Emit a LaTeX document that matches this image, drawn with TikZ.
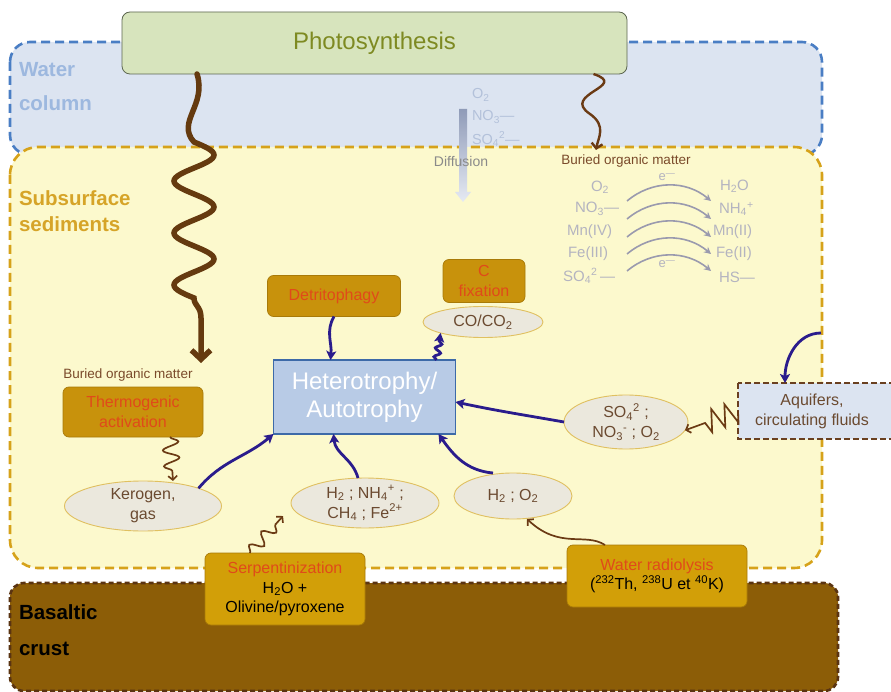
\documentclass[tikz,border=0pt]{standalone}
\usepackage{fontspec}
\setmainfont{Liberation Sans}
\usetikzlibrary{shapes.geometric,arrows.meta,decorations.pathmorphing}
\newcommand\fsz[2]{\fontsize{#1}{#2}\selectfont}
\definecolor{waterfill}{RGB}{220,228,241}
\definecolor{waterdraw}{RGB}{74,126,196}
\definecolor{waterlbl}{RGB}{157,184,223}
\definecolor{sedfill}{RGB}{252,249,205}
\definecolor{seddraw}{RGB}{214,162,26}
\definecolor{sedlbl}{RGB}{214,164,40}
\definecolor{basfill}{RGB}{140,93,7}
\definecolor{basdraw}{RGB}{90,52,18}
\definecolor{photofill}{RGB}{215,228,189}
\definecolor{photodraw}{RGB}{92,102,80}
\definecolor{phototext}{RGB}{126,138,34}
\definecolor{ofill}{RGB}{200,146,12}
\definecolor{ofilltwo}{RGB}{210,159,8}
\definecolor{oborder}{RGB}{168,122,8}
\definecolor{ored}{RGB}{224,74,26}
\definecolor{ellfill}{RGB}{235,232,221}
\definecolor{elldraw}{RGB}{224,192,96}
\definecolor{elltext}{RGB}{107,74,48}
\definecolor{hetfill}{RGB}{184,203,230}
\definecolor{hetdraw}{RGB}{61,106,168}
\definecolor{arrblue}{RGB}{42,28,140}
\definecolor{arrbrown}{RGB}{107,58,20}
\definecolor{bigbrown}{RGB}{101,58,15}
\definecolor{redoxgray}{RGB}{180,180,192}
\definecolor{redoxarc}{RGB}{154,154,174}
\definecolor{difftext}{RGB}{179,193,218}
\definecolor{difftop}{RGB}{143,155,184}
\definecolor{diffbot}{RGB}{230,234,243}
\definecolor{diffgray}{RGB}{138,138,138}
\definecolor{aqdraw}{RGB}{106,64,32}
\definecolor{brownlbl}{RGB}{122,74,42}
\begin{document}
\begin{tikzpicture}[x=1pt,y=-1pt,
  every node/.style={inner sep=0pt,outer sep=0pt},
  regionlbl/.style={anchor=west,align=left},
  obox/.style={draw=oborder,line width=0.7pt,fill=ofill,rounded corners=6pt,text=ored,align=center,font=\fsz{16}{20}},
  obottom/.style={obox,fill=ofilltwo,text=black,font=\fsz{16}{19.5}},
  ell/.style={ellipse,draw=elldraw,line width=0.9pt,fill=ellfill,text=elltext,align=center,font=\fsz{16}{20}},
  redox/.style={text=redoxgray,font=\fsz{15}{17}},
  redoxarr/.style={draw=redoxarc,line width=1.6pt,-{Stealth[length=7pt,width=7pt]}},
  bluearr/.style={draw=arrblue,line width=2.8pt,-{Stealth[length=9pt,width=10pt,inset=2pt]}},
  brownarr/.style={draw=arrbrown,line width=1.7pt,-{Straight Barb[length=4pt,width=9pt]}},
  bigarr/.style={draw=bigbrown,line width=5.5pt,line cap=round,-{Straight Barb[length=9pt,width=19pt]}},
  brownlabel/.style={text=brownlbl,font=\fsz{13.5}{16}}
]
\useasboundingbox (0,0) rectangle (891,692);
% regions
\draw[fill=waterfill,draw=waterdraw,line width=2.6pt,dash pattern=on 9pt off 5pt,rounded corners=20pt] (10,42) rectangle (822,155);
\draw[fill=sedfill,draw=seddraw,line width=2.6pt,dash pattern=on 9pt off 5pt,rounded corners=28pt] (10,147) rectangle (822,568);
\draw[fill=basfill,draw=basdraw,line width=2.6pt,dash pattern=on 5pt off 3pt,rounded corners=14pt] (10,583) rectangle (838,691);
\node[regionlbl,text=waterlbl,font=\bfseries\fsz{20.5}{34}] (wl) at (19,87) {Water\\column};
\node[regionlbl,text=sedlbl,font=\bfseries\fsz{20.5}{26}] (sl) at (19,211) {Subsurface\\sediments};
\node[regionlbl,text=black,font=\bfseries\fsz{20.5}{36}] (bl) at (19,630) {Basaltic\\crust};
% photosynthesis
\node[draw=photodraw,line width=0.8pt,fill=photofill,rounded corners=8pt,minimum width=505pt,minimum height=62pt,text=phototext,font=\fsz{24}{28}] (photo) at (374.5,43) {Photosynthesis};
% diffusion
\shade[top color=difftop,bottom color=diffbot] (459,109) -- (467,109) -- (467,192) -- (471,192) -- (463,202) -- (455,192) -- (459,192) -- cycle;
\node[anchor=west,text=difftext,font=\fsz{14.5}{16}] (do) at (472,95) {O\textsubscript{2}};
\node[anchor=west,text=difftext,font=\fsz{14.5}{16}] (dn) at (472,117) {NO\textsubscript{3}—};
\node[anchor=west,text=difftext,font=\fsz{14.5}{16}] (ds) at (472,139) {SO\textsubscript{4}\textsuperscript{2}—};
\node[text=diffgray,font=\fsz{14}{16}] (diff) at (461,161) {Diffusion};
% right buried organic matter + redox
\node[brownlabel] (bomr) at (626,161) {Buried organic matter};
\coordinate (bomrtip) at (596,150);
\draw[brownarr,line width=2.4pt,-{Straight Barb[length=5pt,width=11pt]}] ([xshift=219pt]photo.south) .. controls (630,86) and (560,94) .. (590,114) .. controls (607,126) and (598,138) .. (bomrtip);
\node[redox,anchor=east] (l1) at (609,187) {O\textsubscript{2}};
\node[redox,anchor=east] (l2) at (619,209) {NO\textsubscript{3}—};
\node[redox,anchor=east] (l3) at (612,232) {Mn(IV)};
\node[redox,anchor=east] (l4) at (608,254) {Fe(III)};
\node[redox,anchor=east] (l5) at (615,276) {SO\textsubscript{4}\textsuperscript{2}\,—};
\node[redox,anchor=west] (r1) at (720,186) {H\textsubscript{2}O};
\node[redox,anchor=west] (r2) at (719,209) {NH\textsubscript{4}\textsuperscript{+}};
\node[redox,anchor=west] (r3) at (713,232) {Mn(II)};
\node[redox,anchor=west] (r4) at (716,254) {Fe(II)};
\node[redox,anchor=west] (r5) at (719,277) {HS—};
\foreach \i/\yy in {1/201,2/219,3/237,4/254,5/271}{
  \coordinate (a\i) at (627,\yy);
  \coordinate (b\i) at (711,\yy);
  \draw[redoxarr] (a\i) to[bend left=40] (b\i);
}
\node[redox,font=\fsz{13}{15}] (e1) at (667,177) {e\textsuperscript{—}};
\node[redox,font=\fsz{13}{15}] (e2) at (667,264) {e\textsuperscript{—}};
% left buried organic matter
\node[brownlabel] (boml) at (128,375) {Buried organic matter};
\coordinate (bomltip) at (201,363);
\draw[bigarr] ([xshift=-177.5pt]photo.south) .. controls (207,105) and (176,122) .. (194,142)
  -- plot[domain=0:12,samples=97] ({194+20*sin(\x*90)},{142+13*\x}) .. controls (194,306) and (201,306) .. (201,318) -- (bomltip);
% boxes
\node[obox,minimum width=140pt,minimum height=50pt] (ther) at (133,412) {Thermogenic\\activation};
\node[obox,minimum width=133pt,minimum height=41pt] (det) at (334,296) {Detritophagy};
\node[obox,minimum width=82pt,minimum height=43pt] (cfix) at (484,281) {C\\fixation};
\node[ell,minimum width=120pt,minimum height=31pt] (co) at (483,322) {CO/CO\textsubscript{2}};
\node[draw=hetdraw,line width=1.6pt,fill=hetfill,minimum width=182pt,minimum height=74pt,text=white,align=center,font=\fsz{24}{28}] (het) at (364.5,397) {Heterotrophy/\\Autotrophy};
\node[ell,minimum width=157pt,minimum height=50pt] (ker) at (143,506) {Kerogen,\\gas};
\node[ell,minimum width=148pt,minimum height=47pt] (hn) at (365,503) {H\textsubscript{2} ; NH\textsubscript{4}\textsuperscript{+} ;\\CH\textsubscript{4} ; Fe\textsuperscript{2+}};
\node[ell,minimum width=118pt,minimum height=46pt] (ho) at (513,496) {H\textsubscript{2} ; O\textsubscript{2}};
\node[ell,minimum width=124pt,minimum height=54pt] (so) at (626,422) {SO\textsubscript{4}\textsuperscript{2} ;\\NO\textsubscript{3}\textsuperscript{-} ; O\textsubscript{2}};
% aquifers
\draw[fill=waterfill,draw=aqdraw,line width=2.2pt,dash pattern=on 6pt off 3pt] (738,383) rectangle (900,439);
\node[minimum width=148pt,minimum height=56pt,align=center,text=elltext,font=\fsz{16}{20}] (aq) at (812,411) {Aquifers,\\circulating fluids};
% bottom boxes
\node[obottom,minimum width=160pt,minimum height=72pt] (serp) at (285,589) {{\color{ored}Serpentinization}\\H\textsubscript{2}O +\\Olivine/pyroxene};
\node[obottom,minimum width=180pt,minimum height=62pt] (rad) at (657,576) {{\color{ored}Water radiolysis}\\(\textsuperscript{232}Th, \textsuperscript{238}U et \textsuperscript{40}K)};
% blue arrows
\draw[bluearr] (det.south) to[out=-120,in=85] ([xshift=-34pt]het.north);
\draw[bluearr] (ker.north east) to[out=50,in=-140] (het.south west);
\draw[bluearr] ([xshift=-7pt]hn.north) to[out=105,in=-85] ([xshift=-31pt]het.south);
\draw[bluearr] ([xshift=-20pt]ho.north) to[out=175,in=-55] ([xshift=74pt]het.south);
\draw[bluearr] (so.west) to[out=170,in=-12] ([yshift=-5pt]het.east);
\draw[bluearr,decorate,decoration={snake,amplitude=3pt,segment length=9pt,post length=6pt}] ([xshift=72pt]het.north) -- (co.south west);
\coordinate (sedR) at (821,333);
\draw[bluearr] (sedR) to[out=180,in=90] ([xshift=-27pt]aq.north);
% brown squiggles
\draw[brownarr,decorate,decoration={snake,amplitude=8pt,segment length=16pt,post length=6pt}] ([xshift=37pt]ther.south) -- ([xshift=30pt]ker.north);
\coordinate (serptip) at (283,516);
\draw[brownarr,decorate,decoration={snake,amplitude=6pt,segment length=18pt,post length=8pt}] ([xshift=-35pt]serp.north) -- (serptip);
\draw[brownarr,decorate,decoration={zigzag,amplitude=11pt,segment length=14pt,post length=20pt}] (aq.west) -- (so.-8);
\draw[brownarr] ([xshift=-52pt]rad.north) .. controls (585,532) and (560,550) .. ([xshift=14pt]ho.south);
\end{tikzpicture}
\end{document}
